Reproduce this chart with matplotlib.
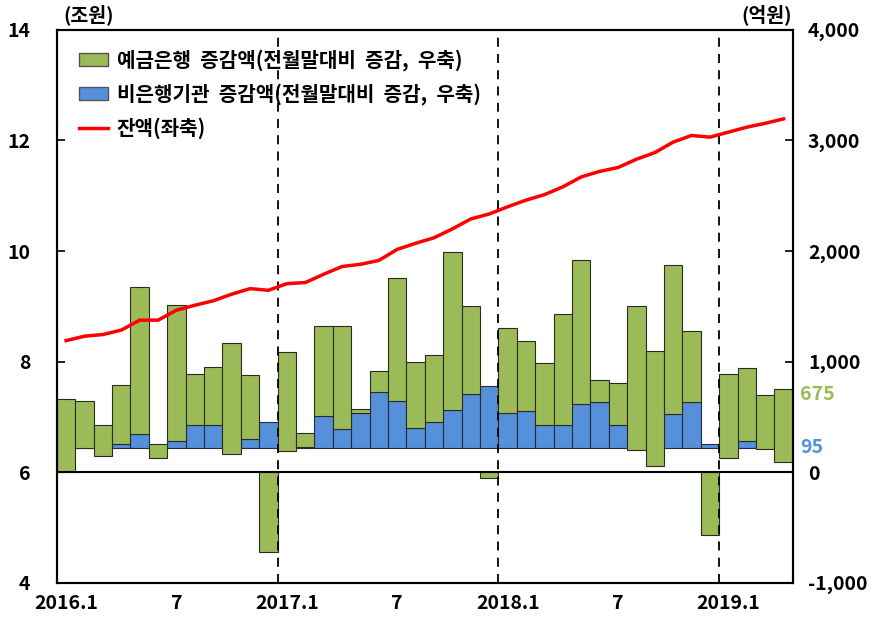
import matplotlib
matplotlib.use("Agg")
import matplotlib.pyplot as plt
from matplotlib.patches import Patch
from matplotlib.lines import Line2D

plt.rcParams['font.family'] = ['Noto Sans CJK KR', 'DejaVu Sans']

# months 2016.1 ~ 2019.4
months = list(range(40))
xtick_pos = [0, 6, 12, 18, 24, 30, 36]
xtick_lab = ['2016.1', '7', '2017.1', '7', '2018.1', '7', '2019.1']

# 잔액 (조원, 좌축)
balance = [8.38, 8.46, 8.49, 8.57, 8.75, 8.75, 8.93, 9.02, 9.10, 9.22,
           9.32, 9.29, 9.41, 9.43, 9.58, 9.72, 9.76, 9.83, 10.03, 10.14,
           10.24, 10.40, 10.58, 10.67, 10.80, 10.92, 11.02, 11.16, 11.34, 11.44,
           11.51, 11.66, 11.78, 11.97, 12.09, 12.06, 12.15, 12.24, 12.31, 12.39]

# 억원, 우축 (bars as drawn in the original)
base = 220
blue_top = [220, 220, 220, 251, 342, 220, 285, 430, 424, 220,
            303, 453, 220, 220, 505, 390, 535, 723, 647, 399,
            453, 566, 708, 784, 535, 550, 430, 430, 620, 632,
            424, 220, 220, 526, 635, 254, 220, 285, 220, 220]
green_bottom = [0, 215, 149, 251, 342, 127, 285, 430, 424, 163,
                303, -720, 194, 224, 505, 390, 535, 723, 647, 399,
                453, 566, 708, -55, 535, 550, 430, 430, 620, 632,
                424, 203, 52, 526, 635, -570, 127, 285, 212, 88]
green_top = [660, 648, 430, 789, 1678, 254, 1515, 886, 950, 1165,
             883, 0, 1088, 357, 1321, 1321, 571, 913, 1757, 998,
             1056, 1995, 1503, 0, 1306, 1185, 986, 1428, 1917, 832,
             805, 1503, 1095, 1875, 1276, 0, 889, 943, 696, 756]

green = '#9BBB59'
blue = '#5690DA'

fig = plt.figure(figsize=(8.75, 6.22), dpi=100)
ax = fig.add_axes([0.065, 0.063, 0.841, 0.889])
ax2 = ax.twinx()

blue_h = [t - base for t in blue_top]
ax2.bar(months, blue_h, bottom=base, width=1.0, color=blue,
        edgecolor='#1f2f3f', linewidth=0.8)
green_h = [t - b for t, b in zip(green_top, green_bottom)]
ax2.bar(months, green_h, bottom=green_bottom, width=1.0, color=green,
        edgecolor='#2b2b1f', linewidth=0.8)
ax2.axhline(0, color='black', lw=1.5)
for xv in [11.5, 23.5, 35.5]:
    ax2.axvline(xv, color='black', lw=1.3, ls=(0, (5, 4)))

ax.set_zorder(ax2.get_zorder() + 1)
ax.patch.set_visible(False)
ax.plot(months, balance, color='#FF0000', lw=2.5)

ax.set_xlim(-0.5, 39.5)
ax.set_ylim(4, 14)
ax2.set_ylim(-1000, 4000)
ax.set_yticks([4, 6, 8, 10, 12, 14])
ax2.set_yticks([-1000, 0, 1000, 2000, 3000, 4000])
ax2.set_yticklabels(['-1,000', '0', '1,000', '2,000', '3,000', '4,000'])
ax.set_xticks(xtick_pos)
ax.set_xticklabels(xtick_lab)

for a in (ax, ax2):
    for s in a.spines.values():
        s.set_linewidth(1.5)
    a.tick_params(axis='y', direction='in', length=6, width=1.2,
                  labelsize=14, pad=11)
    for lab in a.get_yticklabels():
        lab.set_fontweight('bold')
ax.tick_params(axis='y', pad=19)
ax.tick_params(axis='x', length=0, labelsize=14, pad=8)
for lab in ax.get_xticklabels():
    lab.set_fontweight('bold')

fig.text(0.072, 0.96, '(조원)', fontsize=14, fontweight='bold', ha='left', va='bottom')
fig.text(0.905, 0.96, '(억원)', fontsize=14, fontweight='bold', ha='right', va='bottom')

ax2.text(1.01, 703, '675', transform=ax2.get_yaxis_transform(), color=green,
         fontsize=14, fontweight='bold', ha='left', va='center')
ax2.text(1.01, 225, '95', transform=ax2.get_yaxis_transform(), color=blue,
         fontsize=14, fontweight='bold', ha='left', va='center')

handles = [Patch(facecolor=green, edgecolor='#555555'),
           Patch(facecolor=blue, edgecolor='#555555'),
           Line2D([], [], color='#FF0000', lw=2.5)]
labels = ['예금은행  증감액(전월말대비  증감,  우축)',
          '비은행기관  증감액(전월말대비  증감,  우축)',
          '잔액(좌축)']
leg = ax.legend(handles, labels, loc='upper left', bbox_to_anchor=(0.006, 0.998),
                frameon=False, prop={'size': 14.5, 'weight': 'bold'},
                handlelength=1.4, handleheight=0.65, labelspacing=0.6,
                handletextpad=0.45)

fig.savefig('out.png', dpi=100)
